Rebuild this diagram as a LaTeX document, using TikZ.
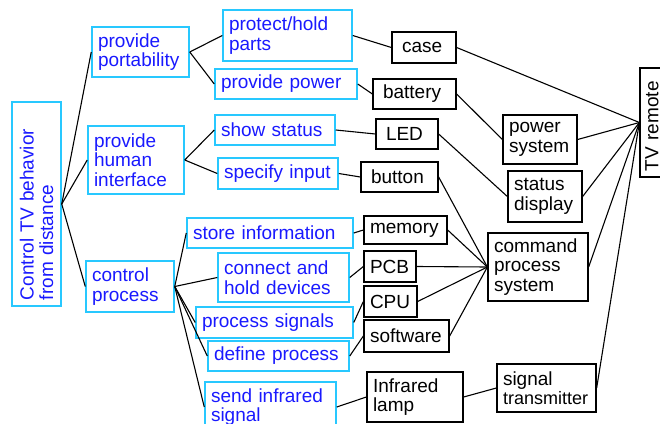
\documentclass[tikz,border=0pt]{standalone}
\usepackage{fontspec}
\setmainfont{Liberation Sans}
\definecolor{boxcyan}{RGB}{40,200,255}
\definecolor{txtblue}{RGB}{25,25,255}
\tikzset{
  base/.style={rectangle, inner xsep=6pt, inner ysep=0pt, align=left,
               font=\fontsize{19}{19.5}\selectfont},
  fbox/.style={base, draw=boxcyan, line width=1.5pt, text=txtblue},
  pbox/.style={base, draw=black, line width=1.3pt, text=black},
  wide/.style={inner xsep=10pt},
  link/.style={line width=1.1pt, black}
}
\begin{document}
\begin{tikzpicture}[x=1pt, y=-1pt]
\useasboundingbox (0,0) rectangle (660,423);
\clip (0,0) rectangle (660,423);

% function tree
\node[fbox, rotate=90, minimum width=204pt, minimum height=49pt, text width=192pt] (root) at (36.5,204) {Control TV behavior\\from distance};
\node[fbox, minimum width=97pt, minimum height=50pt, text width=85pt] (port) at (140.5,52) {provide\\portability};
\node[fbox, minimum width=96pt, minimum height=68pt, text width=84pt] (hif) at (136,160) {provide\\human\\interface};
\node[fbox, minimum width=88pt, minimum height=51pt, text width=76pt] (ctrl) at (130,286.5) {control\\process};

\node[fbox, minimum width=129pt, minimum height=51pt, text width=117pt] (prot) at (287.5,35.5) {protect/hold\\parts};
\node[fbox, minimum width=142pt, minimum height=30pt, text width=130pt] (ppow) at (286,84) {provide power};
\node[fbox, minimum width=120pt, minimum height=30pt, text width=108pt] (show) at (275,130) {show status};
\node[fbox, minimum width=120pt, minimum height=31pt, text width=108pt] (spec) at (278,173.5) {specify input};
\node[fbox, minimum width=166pt, minimum height=30pt, text width=154pt] (store) at (270,233) {store information};
\node[fbox, minimum width=131pt, minimum height=49pt, text width=119pt] (conn) at (283.5,277.5) {connect and\\hold devices};
\node[fbox, minimum width=157pt, minimum height=31pt, text width=145pt] (psig) at (274.5,322.5) {process signals};
\node[fbox, minimum width=141pt, minimum height=30pt, text width=129pt] (defp) at (278.5,356) {define process};
\node[fbox, minimum width=131pt, minimum height=50pt, text width=119pt] (send) at (270.5,407) {send infrared\\signal};

% physical parts
\node[pbox, wide, minimum width=64pt, minimum height=31pt, text width=44pt] (case) at (424,47.5) {case};
\node[pbox, wide, minimum width=83pt, minimum height=30pt, text width=63pt] (batt) at (414.5,94) {battery};
\node[pbox, wide, minimum width=62pt, minimum height=30pt, text width=42pt] (led) at (407,134) {LED};
\node[pbox, wide, minimum width=77pt, minimum height=30pt, text width=57pt] (btn) at (399.5,177) {button};
\node[pbox, minimum width=83pt, minimum height=28pt, text width=71pt] (mem) at (405.5,230) {memory};
\node[pbox, minimum width=52pt, minimum height=31pt, text width=40pt] (pcb) at (390,266.5) {PCB};
\node[pbox, minimum width=53pt, minimum height=31pt, text width=41pt] (cpu) at (390.5,301.5) {CPU};
\node[pbox, minimum width=85pt, minimum height=32pt, text width=73pt] (soft) at (406.5,336) {software};
\node[pbox, minimum width=96pt, minimum height=50pt, text width=84pt] (lamp) at (415,397) {Infrared\\lamp};

% subsystems
\node[pbox, minimum width=74pt, minimum height=49pt, text width=62pt] (psys) at (540,139.5) {power\\system};
\node[pbox, minimum width=74pt, minimum height=51pt, text width=62pt] (sdisp) at (545,196.5) {status\\display};
\node[pbox, minimum width=100pt, minimum height=68pt, text width=88pt] (cps) at (538,267) {command\\process\\system};
\node[pbox, minimum width=99pt, minimum height=48pt, text width=87pt] (stx) at (546.5,388) {signal\\{\fontsize{18}{18}\selectfont transmitter}};
\node[pbox, rotate=90, minimum width=109pt, minimum height=24pt, text width=97pt] (tv) at (652,122.5) {TV remote};

% connectors
\draw[link] (root.south) -- (port.west);
\draw[link] (root.south) -- (hif.west);
\draw[link] (root.south) -- (ctrl.west);
\draw[link] (port.east) -- (prot.west);
\draw[link] (port.east) -- (ppow.west);
\draw[link] (hif.east) -- (show.west);
\draw[link] (hif.east) -- (spec.west);
\draw[link] (ctrl.east) -- (store.west);
\draw[link] (ctrl.east) -- (conn.west);
\draw[link] (ctrl.east) -- (psig.west);
\draw[link] (ctrl.east) -- (defp.west);
\draw[link] (ctrl.east) -- (send.west);

\draw[link] (prot.east) -- (case.west);
\draw[link] (ppow.east) -- (batt.west);
\draw[link] (show.east) -- (led.west);
\draw[link] (spec.east) -- (btn.west);
\draw[link] (store.east) -- (mem.west);
\draw[link] (conn.east) -- (pcb.west);
\draw[link] (psig.east) -- (cpu.west);
\draw[link] (defp.east) -- (soft.west);
\draw[link] (send.east) -- (lamp.west);

\draw[link] (batt.east) -- (psys.west);
\draw[link] (led.east) -- (sdisp.west);
\draw[link] (btn.east) -- (cps.west);
\draw[link] (mem.east) -- (cps.west);
\draw[link] (pcb.east) -- (cps.west);
\draw[link] (cpu.east) -- (cps.west);
\draw[link] (soft.east) -- (cps.west);
\draw[link] (lamp.east) -- (stx.west);

\draw[link] (case.east) -- (tv.north);
\draw[link] (psys.east) -- (tv.north);
\draw[link] (sdisp.east) -- (tv.north);
\draw[link] (cps.east) -- (tv.north);
\draw[link] (stx.east) -- (tv.north);
\end{tikzpicture}
\end{document}
